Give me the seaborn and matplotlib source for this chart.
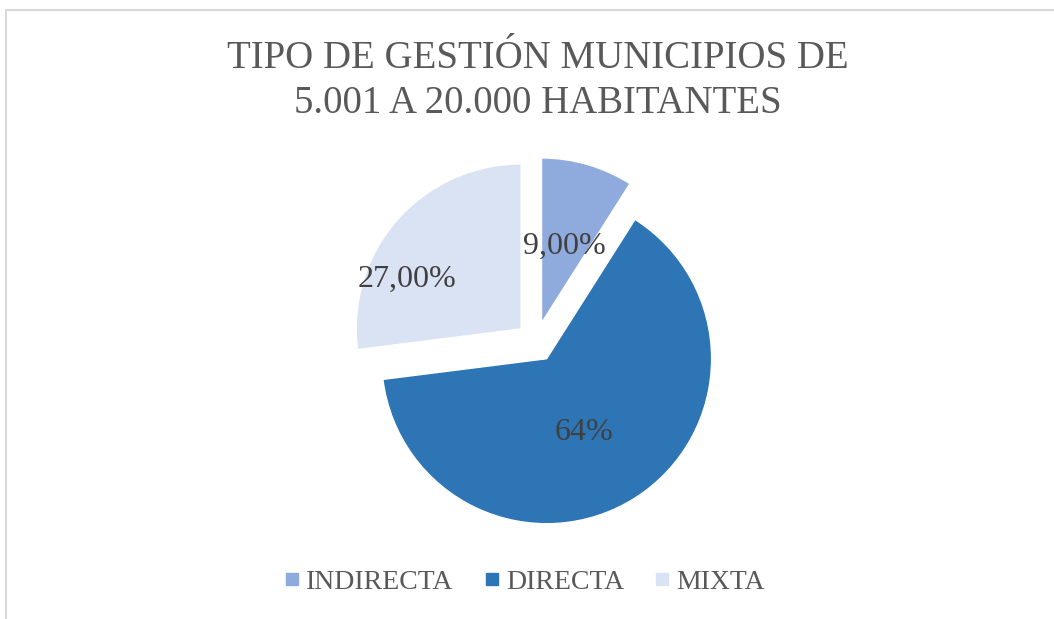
import matplotlib
matplotlib.use("Agg")
import matplotlib.pyplot as plt
import seaborn as sns
from matplotlib.lines import Line2D

# Data
categories = ["INDIRECTA", "DIRECTA", "MIXTA"]
values = [9, 64, 27]
pct_labels = ["9,00%", "64%", "27,00%"]
colors = ["#8FAADC", "#2E75B6", "#DAE3F3"]
title = "TIPO DE GESTIÓN MUNICIPIOS DE\n5.001 A 20.000 HABITANTES"

sns.set_theme(style="white")
plt.rcParams["font.family"] = ["Liberation Serif", "DejaVu Serif"]

W, H = 1054, 619
fig = plt.figure(figsize=(W / 100, H / 100), dpi=100)

# pie centre and radius in pixels
cx, cy, r = 536, 342, 165
span = 1.5 * r
ax = fig.add_axes([(cx - span) / W, (H - cy - span) / H, 2 * span / W, 2 * span / H])

wedges, texts = ax.pie(
    values,
    colors=colors,
    startangle=90,
    counterclock=False,
    explode=[0.12] * len(values),
    radius=1,
    labels=pct_labels,
    labeldistance=0.6,
    textprops=dict(fontsize=23, color="#404040", ha="center", va="center"),
)
# Excel-like label placement
texts[0].set_position((0.17, 0.58))
texts[1].set_position((0.29, -0.55))
texts[2].set_position((-0.78, 0.38))

ax.set_xlim(-1.5, 1.5)
ax.set_ylim(-1.5, 1.5)
ax.set_aspect("equal")
ax.axis("off")

fig.text(0.510, 1 - 81 / H, title, ha="center", va="center", fontsize=28,
         color="#595959", linespacing=1.27)

handles = [Line2D([], [], marker="s", linestyle="none", markersize=8,
                  markerfacecolor=c, markeredgecolor=c) for c in colors]
fig.legend(handles, categories, loc="center", bbox_to_anchor=(0.498, 1 - 582 / H),
           ncol=3, frameon=False, fontsize=20, labelcolor="#595959",
           handletextpad=0.27, columnspacing=1.12, handlelength=0.5)

# chart frame (top and left edges visible)
fig.add_artist(Line2D([6 / W, 1], [1 - 10 / H, 1 - 10 / H], color="#D9D9D9", lw=1.5))
fig.add_artist(Line2D([6 / W, 6 / W], [0, 1 - 10 / H], color="#D9D9D9", lw=1.5))

fig.savefig("out.png", dpi=100, facecolor="white")
